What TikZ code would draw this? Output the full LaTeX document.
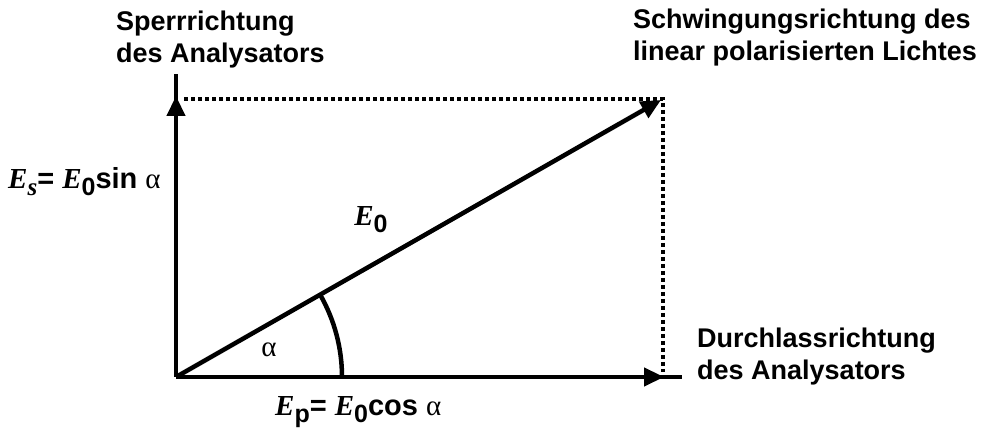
\documentclass[tikz,border=0pt]{standalone}
\usepackage{fontspec}
\setmainfont{Liberation Sans}
\newfontfamily\serifit{Liberation Serif}
\usetikzlibrary{arrows.meta,calc}
\tikzset{
  axis/.style={line width=4.5pt},
  tip/.style={-{Triangle[length=20pt,width=18pt]}},
  dots/.style={line width=3.8pt,dash pattern=on 3.8pt off 3.2pt},
  lbl/.style={inner sep=0pt,align=left,font=\fontsize{27}{32}\selectfont\bfseries},
  mth/.style={inner sep=0pt,font=\fontsize{29}{32}\selectfont\bfseries},
}
\newcommand\EE{{\serifit\bfseries\itshape E}}
\newcommand\alp{{\serifit\mdseries\upshape α}}
\newcommand\sub[1]{\raisebox{-7pt}{\fontsize{25}{27}\selectfont #1}}
\begin{document}
\begin{tikzpicture}[x=1pt,y=1pt]
\useasboundingbox[fill=white] (0,0) rectangle (985,430);
\coordinate (O) at (176,53);
\coordinate (Hend) at (682,53);
\coordinate (H) at (664,53);
\coordinate (Vend) at (176,356);
\coordinate (V) at (176,334);
\coordinate (T) at (661,330);
\coordinate (C) at (663,331);
\coordinate (Dl) at (184,331);
\coordinate (Db) at (663,58);
\coordinate (A) at (342,53);
% dotted projections
\draw[dots] (Dl) -- (C) -- (Db);
% axes
\draw[axis] (O) -- (Hend);
\draw[axis,tip] (O) -- (H);
\draw[axis] (O) -- (Vend);
\draw[axis,tip] (O) -- (V);
% vector
\draw[axis,tip] (O) -- (T);
% angle arc
\draw[axis] (A) arc[start angle=0,end angle=29.8,radius=166];
% labels
\node[lbl,anchor=base west] (sperr) at (116,367) {Sperrrichtung\\des Analysators};
\node[lbl,anchor=base west] (schw) at (633,369) {Schwingungsrichtung des\\linear polarisierten Lichtes};
\node[lbl,anchor=base west] (durch) at (697,50) {Durchlassrichtung\\des Analysators};
\node[mth,anchor=base west] (es) at (8,241) {\EE\sub{\serifit\bfseries\itshape s}= \EE\sub{0}sin \alp};
\node[mth,anchor=base west] (ep) at (275,14) {\EE\sub{p}= \EE\sub{0}cos \alp};
\node[mth,anchor=base] (e0) at (371,204) {\EE\sub{0}};
\node[mth,anchor=center] (al) at (269,80) {\alp};
\end{tikzpicture}
\end{document}
